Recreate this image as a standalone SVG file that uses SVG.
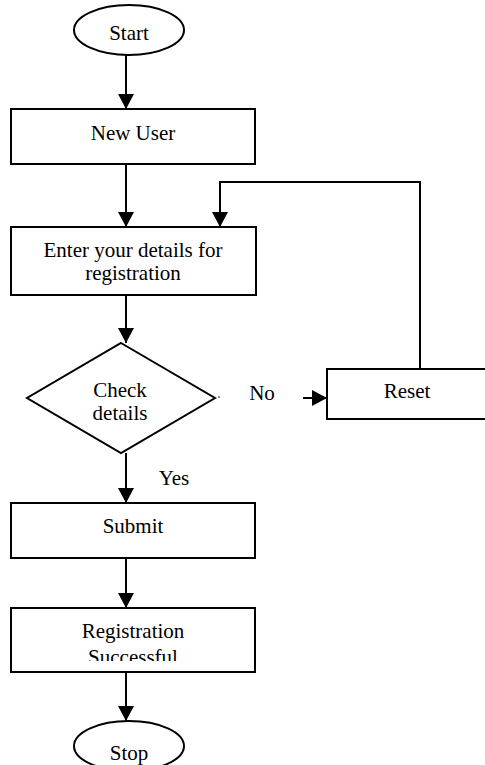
<svg xmlns="http://www.w3.org/2000/svg" width="485" height="765" viewBox="0 0 485 765">
<style>
.s{fill:#fff;stroke:#000;stroke-width:2}
.c{fill:none;stroke:#000;stroke-width:2}
text{font-family:"Liberation Serif","Times New Roman",serif;font-size:21px;fill:#000;text-anchor:middle}
</style>
<defs>
<marker id="ah" markerUnits="userSpaceOnUse" markerWidth="16" markerHeight="16" refX="15" refY="8" orient="auto">
<path d="M0,0 L15,8 L0,16 z" fill="#000"/>
</marker>
<clipPath id="regclip"><rect x="11" y="608" width="244" height="53"/></clipPath>
</defs>
<g id="connectors">
<path class="c" d="M126,55 V109" marker-end="url(#ah)"/>
<path class="c" d="M126,164 V227" marker-end="url(#ah)"/>
<path class="c" d="M126,295 V343" marker-end="url(#ah)"/>
<path class="c" d="M126,453 V503" marker-end="url(#ah)"/>
<path class="c" d="M126,558 V608" marker-end="url(#ah)"/>
<path class="c" d="M126,672 V721" marker-end="url(#ah)"/>
<path class="c" d="M303,398 H327" marker-end="url(#ah)"/>
<path class="c" d="M420,369 V182 H220 V227" marker-end="url(#ah)"/>
<circle cx="219" cy="397" r="0.8" fill="#000"/>
<text x="262" y="400">No</text>
<text x="174" y="485">Yes</text>
</g>
<g id="start">
<ellipse class="s" cx="129" cy="30" rx="55" ry="25"/>
<text x="129" y="40">Start</text>
</g>
<g id="newuser">
<rect class="s" x="11" y="109" width="244" height="55"/>
<text x="133" y="140">New User</text>
</g>
<g id="enter">
<rect class="s" x="11" y="227" width="245" height="68"/>
<text x="133" y="257">Enter your details for</text>
<text x="133" y="280">registration</text>
</g>
<g id="check">
<polygon class="s" points="121,343 215,398 121,453 27,398"/>
<text x="120" y="397">Check</text>
<text x="120" y="420">details</text>
</g>
<g id="reset">
<rect class="s" x="327" y="369" width="170" height="50"/>
<text x="407" y="398">Reset</text>
</g>
<g id="submit">
<rect class="s" x="11" y="503" width="244" height="55"/>
<text x="133" y="533">Submit</text>
</g>
<g id="registration">
<rect class="s" x="11" y="608" width="244" height="64"/>
<text x="133" y="638">Registration</text>
<text x="133" y="664" clip-path="url(#regclip)">Successful</text>
</g>
<g id="stop">
<ellipse class="s" cx="129" cy="746" rx="55" ry="25"/>
<text x="129" y="760">Stop</text>
</g>
</svg>
